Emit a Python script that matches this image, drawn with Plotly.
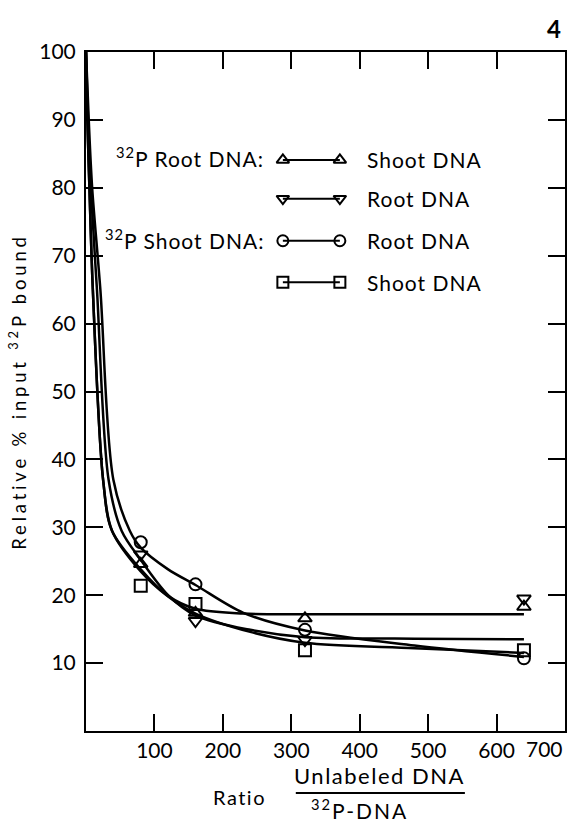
import plotly.graph_objects as go

# ---- measured points ----
ratio = [80, 160, 320, 640]
root_vs_shoot = [24.6, 17.4, 16.6, 18.3]     # 32P Root DNA : Shoot DNA (triangle up)
root_vs_root = [26.0, 16.2, 13.4, 19.5]      # 32P Root DNA : Root DNA (triangle down)
shoot_vs_root = [27.8, 21.6, 14.9, 10.7]     # 32P Shoot DNA : Root DNA (circle)
shoot_vs_shoot = [21.4, 18.7, 11.9, 11.9]    # 32P Shoot DNA : Shoot DNA (square)

# ---- fitted curves ----
curve_up_x = [0, 2, 5, 10, 25, 38, 80, 120, 160, 230, 320, 480, 640]
curve_up_y = [100, 90, 80, 65, 37, 29.5, 23.8, 19.9, 18.0, 17.3, 17.2, 17.2, 17.2]
curve_down_x = [0, 3, 7, 16, 33, 52, 80, 120, 160, 240, 320, 480, 640]
curve_down_y = [100, 90, 80, 65, 37, 29.5, 25.2, 20.0, 17.0, 14.9, 13.8, 13.6, 13.5]
curve_circ_x = [0, 4, 9, 21, 40, 64, 80, 120, 160, 230, 320, 480, 640]
curve_circ_y = [100, 90, 80, 65, 37, 29.5, 27.0, 23.8, 21.5, 17.4, 14.8, 12.6, 10.9]
curve_sq_x = [0, 2, 5, 10, 25, 38, 80, 120, 160, 240, 320, 480, 640]
curve_sq_y = [100, 90, 80, 65, 37, 29.5, 23.5, 19.8, 17.3, 14.6, 13.0, 12.2, 11.5]

x_ticks = [100, 200, 300, 400, 500, 600]
y_ticks = [10, 20, 30, 40, 50, 60, 70, 80, 90, 100]

FONT = "Lato"
INK = "black"


def spaced(txt, px=1.5):
    return f'<span style="letter-spacing:{px}px">{txt}</span>'


fig = go.Figure()

curves = [
    (curve_up_x, curve_up_y),
    (curve_down_x, curve_down_y),
    (curve_circ_x, curve_circ_y),
    (curve_sq_x, curve_sq_y),
]
for cx, cy in curves:
    fig.add_trace(go.Scatter(x=cx, y=cy, mode="lines",
                             line=dict(color=INK, width=2.5, shape="spline", smoothing=0.9),
                             showlegend=False, hoverinfo="skip"))

series = [
    (root_vs_shoot, "triangle-up-open"),
    (root_vs_root, "triangle-down-open"),
    (shoot_vs_root, "circle-open"),
    (shoot_vs_shoot, "square-open"),
]
for vals, sym in series:
    fig.add_trace(go.Scatter(x=ratio, y=vals, mode="markers",
                             marker=dict(symbol=sym, size=12, color=INK,
                                         line=dict(color=INK, width=2)),
                             showlegend=False))

# ---- legend key drawn on an overlay axis in plot-fraction units ----
key_x0, key_x1 = 0.411, 0.530
key_rows = [0.841, 0.784, 0.722, 0.661]
key_labels = ["Shoot DNA", "Root DNA", "Root DNA", "Shoot DNA"]
for (vals, sym), ky, lab in zip(series, key_rows, key_labels):
    fig.add_trace(go.Scatter(x=[key_x0, key_x1], y=[ky, ky], mode="lines+markers",
                             xaxis="x2", yaxis="y2",
                             line=dict(color=INK, width=2),
                             marker=dict(symbol=sym, size=11, color=INK,
                                         line=dict(color=INK, width=2)),
                             showlegend=False, hoverinfo="skip"))
    fig.add_annotation(xref="x2", yref="y2", x=0.582, y=ky, text=spaced(lab, 1),
                       showarrow=False, xanchor="left", yanchor="middle",
                       font=dict(family=FONT, size=21, color=INK))

fig.add_annotation(xref="x2", yref="y2", x=0.376, y=0.846,
                   text=spaced("<sup>32</sup>P Root DNA:", 1), showarrow=False,
                   xanchor="right", yanchor="middle",
                   font=dict(family=FONT, size=21, color=INK))
fig.add_annotation(xref="x2", yref="y2", x=0.376, y=0.724,
                   text=spaced("<sup>32</sup>P Shoot DNA:", 1), showarrow=False,
                   xanchor="right", yanchor="middle",
                   font=dict(family=FONT, size=21, color=INK))

# 700 label kept inside the page
fig.add_annotation(xref="x", yref="paper", x=700, y=0, yshift=-3,
                   text="700", showarrow=False, xanchor="right", yanchor="top",
                   font=dict(family=FONT, size=21, color=INK))

# x-axis title: Ratio  Unlabeled DNA / 32P-DNA
fig.add_annotation(xref="paper", yref="paper", x=0.3215, y=-0.097,
                   text=spaced("Ratio", 1.5), showarrow=False, xanchor="center", yanchor="middle",
                   font=dict(family=FONT, size=20, color=INK))
fig.add_annotation(xref="paper", yref="paper", x=0.612, y=-0.066,
                   text=spaced("Unlabeled DNA", 1.5), showarrow=False, xanchor="center",
                   yanchor="middle", font=dict(family=FONT, size=22, color=INK))
fig.add_annotation(xref="paper", yref="paper", x=0.572, y=-0.1155,
                   text=spaced("<sup>32</sup>P-DNA", 2), showarrow=False, xanchor="center",
                   yanchor="middle", font=dict(family=FONT, size=21, color=INK))
fig.add_shape(type="line", xref="paper", yref="paper", x0=0.438, x1=0.791,
              y0=-0.0913, y1=-0.0913, line=dict(color=INK, width=2))

# panel number
fig.add_annotation(xref="paper", yref="paper", x=0.995, y=1.035,
                   text="<b>4</b>", showarrow=False, xanchor="right", yanchor="middle",
                   font=dict(family=FONT, size=24, color=INK))

axis_common = dict(showgrid=False, zeroline=False, showline=True, linecolor=INK,
                   linewidth=2, ticks="inside", ticklen=17, tickwidth=2, tickcolor=INK,
                   mirror="ticks", tickfont=dict(family=FONT, size=21, color=INK))

fig.update_layout(
    width=568, height=822,
    margin=dict(l=86, r=3, t=52, b=91, autoexpand=False),
    paper_bgcolor="white", plot_bgcolor="white",
    xaxis=dict(range=[0, 700], tickvals=x_ticks, automargin=False, **axis_common),
    yaxis=dict(range=[0, 100], tickvals=y_ticks, ticklabelstandoff=4, automargin=False,
               title=dict(text=spaced("Relative % input <sup>32</sup>P bound", 3.8),
                          font=dict(family=FONT, size=18.5, color=INK), standoff=8),
               **axis_common),
    xaxis2=dict(range=[0, 1], overlaying="x", visible=False, fixedrange=True),
    yaxis2=dict(range=[0, 1], overlaying="y", visible=False, fixedrange=True),
    showlegend=False,
)

fig.write_html("out.html", config={"displayModeBar": False},
               post_script="document.body.style.margin='0';document.body.style.overflow='hidden';")
